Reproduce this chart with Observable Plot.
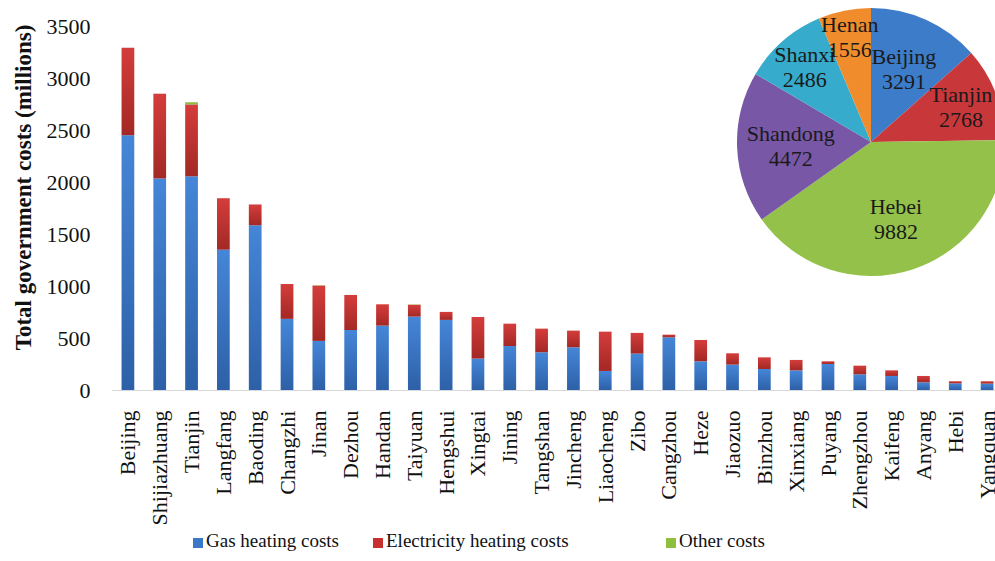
<!DOCTYPE html>
<html>
<head>
<meta charset="utf-8">
<script src="https://cdn.jsdelivr.net/npm/d3@7"></script>
<script src="https://cdn.jsdelivr.net/npm/@observablehq/plot@0.6"></script>
<style>
  html, body { margin: 0; padding: 0; background: #fff; width: 995px; height: 561px; overflow: hidden; }
  #chart svg { display: block; max-width: none; overflow: visible; }
  .legend { position: relative; height: 33px; font: 19px "Liberation Serif", "Times New Roman", serif; color: #111; }
  .legend .item { position: absolute; top: 3px; white-space: nowrap; line-height: 19px; }
  .legend .swatch { display: inline-block; width: 10px; height: 10px; margin-right: 3px; vertical-align: -1px; }
  .pie-label { font-family: "Liberation Serif", "Times New Roman", serif; font-size: 22px; }
</style>
</head>
<body>
<div id="chart"></div>
<script>
// Heating cost breakdown by city (millions)
const cities = ["Beijing", "Shijiazhuang", "Tianjin", "Langfang", "Baoding", "Changzhi", "Jinan", "Dezhou",
  "Handan", "Taiyuan", "Hengshui", "Xingtai", "Jining", "Tangshan", "Jincheng", "Liaocheng", "Zibo",
  "Cangzhou", "Heze", "Jiaozuo", "Binzhou", "Xinxiang", "Puyang", "Zhengzhou", "Kaifeng", "Anyang",
  "Hebi", "Yangquan"];
const gasCosts = [2450, 2034, 2055, 1349, 1584, 684, 472, 577, 619, 706, 674, 302, 423, 363, 411, 183, 350,
  507, 276, 244, 202, 189, 250, 151, 135, 74, 64, 61];
const elecCosts = [841, 815, 690, 495, 200, 335, 532, 337, 205, 114, 77, 400, 215, 227, 160, 378, 199,
  25, 205, 109, 112, 100, 26, 83, 54, 61, 20, 23];
const otherCosts = [0, 0, 23, 0, 0, 0, 3, 0, 0, 3, 0, 0, 0, 0, 0, 0, 0,
  0, 0, 0, 0, 0, 0, 0, 0, 0, 0, 0];
const seriesNames = ["Gas heating costs", "Electricity heating costs", "Other costs"];
const yTicks = [0, 500, 1000, 1500, 2000, 2500, 3000, 3500];

// Totals by province
const provinces = ["Beijing", "Tianjin", "Hebei", "Shandong", "Shanxi", "Henan"];
const provinceTotals = [3291, 2768, 9882, 4472, 2486, 1556];

const serif = '"Liberation Serif", "Times New Roman", serif';

const rows = [];
cities.forEach((c, i) => {
  rows.push({city: c, series: seriesNames[0], value: gasCosts[i]});
  rows.push({city: c, series: seriesNames[1], value: elecCosts[i]});
  rows.push({city: c, series: seriesNames[2], value: otherCosts[i]});
});

const gradStops = {
  gasGrad: ["#4586d8", "#2d60a7"],
  elecGrad: ["#d43d3b", "#a32825"],
  otherGrad: ["#a2cc58", "#7fa93b"]
};
const solid = ["#3b78c8", "#c8302e", "#8fbf3f"];

// Vertical gradient fills for the bar segments
function gradientDefs() {
  return () => {
    const defs = d3.create("svg:defs");
    for (const [id, [a, b]] of Object.entries(gradStops)) {
      const lg = defs.append("linearGradient").attr("id", id)
        .attr("x1", 0).attr("y1", 0).attr("x2", 0).attr("y2", 1);
      lg.append("stop").attr("offset", "0%").attr("stop-color", a);
      lg.append("stop").attr("offset", "100%").attr("stop-color", b);
    }
    return defs.node();
  };
}

// Province pie inset in the upper right
const pieColors = ["#3d7cc9", "#c8383a", "#94c14a", "#7857a6", "#36abcb", "#f18c2c"];
const labelRadius = {Beijing: 0.6, Tianjin: 0.72, Hebei: 0.6, Shandong: 0.6, Shanxi: 0.75, Henan: 0.8};
function pieInset() {
  return (index, scales, values, dims) => {
    const r = 134, cx = dims.width - 139, cy = 142;
    const pieRows = provinces.map((p, i) => ({name: p, value: provinceTotals[i], color: pieColors[i]}));
    const arcs = d3.pie().sort(null).value(d => d.value)(pieRows);
    const arc = d3.arc().innerRadius(0).outerRadius(r);
    const g = d3.create("svg:g").attr("transform", `translate(${cx},${cy})`);
    g.selectAll("path").data(arcs).join("path")
      .attr("d", arc)
      .attr("fill", d => d.data.color);
    const lab = g.selectAll("g.lab").data(arcs).join("g")
      .attr("class", "pie-label")
      .attr("transform", d => {
        const a = (d.startAngle + d.endAngle) / 2;
        const rr = r * labelRadius[d.data.name];
        return `translate(${rr * Math.sin(a)},${-rr * Math.cos(a)})`;
      })
      .style("font-family", serif)
      .style("font-size", "22px")
      .attr("fill", "#1a1a1a")
      .attr("text-anchor", "middle");
    lab.append("text").attr("y", -12.5).attr("dy", "0.35em").text(d => d.data.name);
    lab.append("text").attr("y", 12.5).attr("dy", "0.35em").text(d => d.data.value);
    return g.node();
  };
}

const chart = Plot.plot({
  width: 1010,
  height: 528,
  marginLeft: 112,
  marginRight: 7,
  marginTop: 26,
  marginBottom: 138,
  style: {fontFamily: serif, fontSize: "22px", color: "#111", background: "#fff"},
  x: {domain: cities, paddingInner: 0.6, paddingOuter: 0.3, round: false},
  y: {domain: [0, 3500]},
  color: {domain: seriesNames, range: ["url(#gasGrad)", "url(#elecGrad)", "url(#otherGrad)"]},
  marks: [
    gradientDefs(),
    Plot.barY(rows, {x: "city", y: "value", fill: "series"}),
    Plot.ruleY([0], {stroke: "#d9d9d9", strokeWidth: 1}),
    Plot.axisY({ticks: yTicks, tickFormat: d => String(d), tickSize: 0, tickPadding: 22, label: null}),
    Plot.axisX({tickRotate: -90, tickSize: 0, tickPadding: 20, label: null}),
    Plot.text(["Total government costs (millions)"], {
      frameAnchor: "left", textAnchor: "middle", rotate: -90, dx: -89, dy: -21,
      fontWeight: "bold", fontSize: 23, fill: "#111"
    }),
    pieInset()
  ]
});
document.getElementById("chart").append(chart);

// Legend below the plot
const legend = document.createElement("div");
legend.className = "legend";
const legendLefts = [193, 373, 666];
seriesNames.forEach((name, i) => {
  const item = document.createElement("span");
  item.className = "item";
  item.style.left = (legendLefts[i]) + "px";
  const sw = document.createElement("span");
  sw.className = "swatch";
  sw.style.background = solid[i];
  item.append(sw, document.createTextNode(name));
  legend.append(item);
});
document.body.append(legend);
</script>
</body>
</html>
